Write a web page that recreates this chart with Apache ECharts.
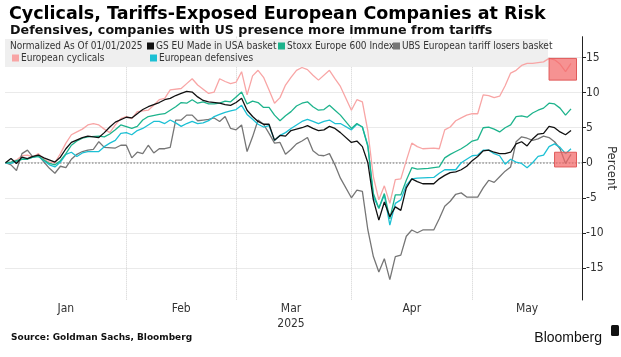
<!DOCTYPE html>
<html><head><meta charset="utf-8">
<script src="https://cdn.jsdelivr.net/npm/echarts@6/dist/echarts.min.js"></script>
<style>html,body{margin:0;padding:0;background:#fff}#c{width:621px;height:357px}</style>
</head><body><div id="c"></div>
<script>
// trading days (weekdays) of 2025 shown on the axis
const janDays = [1,2,3,6,7,8,9,10,13,14,15,16,17,20,21,22,23,24,27,28,29,30,31];
const febDays = [3,4,5,6,7,10,11,12,13,14,17,18,19,20,21,24,25,26,27,28];
const marDays = [3,4,5,6,7,10,11,12,13,14,17,18,19,20,21,24,25,26,27,28,31];
const aprDays = [1,2,3,4,7,8,9,10,11,14,15,16,17,18,21,22,23,24,25,28,29,30];
const mayDays = [1,2,5,6,7,8,9,12,13,14,15,16,19,20,21,22,23,26,27,28];

const monthLabelDates = ['2025-01-16','2025-02-14','2025-03-14','2025-04-15','2025-05-14'];
const monthLabels = ['Jan','Feb','Mar\n2025','Apr','May'];
const monthLineDates = ['2025-01-31','2025-02-28','2025-03-31','2025-04-30'];
const yTicks = [-15,-10,-5,0,5,10,15];

// [trading-day index, % change since 01/01/2025]
const gsMadeInUSA = [[0,0],[1,0.6],[2,-0.1],[3,0.8],[4,0.6],[5,0.9],[6,1.1],[7,0.7],[9,0.1],[10,0.8],[11,2.0],[12,2.9],[14,3.6],[15,3.8],[17,3.6],[18,4.3],[19,5.1],[20,5.8],[22,6.5],[23,6.4],[24,7.0],[25,7.6],[26,8.0],[28,8.6],[29,9.0],[30,9.2],[31,9.6],[32,9.9],[33,10.2],[34,10.1],[35,9.4],[36,8.9],[37,8.7],[39,8.5],[40,8.3],[41,8.2],[42,8.6],[43,9.2],[44,7.5],[45,6.6],[46,5.9],[47,5.5],[48,5.5],[49,3.2],[50,3.9],[51,3.8],[52,4.6],[54,5.0],[55,5.3],[56,4.9],[57,4.6],[58,4.7],[59,5.2],[60,4.9],[61,4.3],[63,2.9],[64,3.1],[65,2.3],[66,0.0],[67,-5.3],[68,-8.2],[69,-5.6],[70,-7.7],[71,-6.3],[72,-6.8],[73,-3.6],[74,-2.3],[75,-2.7],[76,-3.0],[78,-3.0],[79,-2.3],[80,-1.8],[81,-1.4],[82,-1.3],[83,-1.0],[84,-0.5],[85,0.3],[86,0.9],[87,1.7],[88,1.8],[89,1.5],[90,1.3],[91,1.3],[92,1.5],[93,2.7],[94,3.0],[95,2.4],[96,3.4],[97,4.1],[98,4.2],[99,5.2],[100,5.0],[101,4.4],[102,4.0],[103,4.6]];
const stoxx600 = [[0,0],[1,0.1],[3,0.5],[4,0.5],[5,0.8],[6,0.9],[7,0.4],[8,-0.1],[9,-0.3],[10,0.3],[11,1.3],[12,2.5],[13,3.1],[14,3.5],[15,3.7],[17,3.8],[18,3.7],[19,4.1],[20,4.7],[21,5.4],[23,4.9],[24,5.2],[25,6.1],[26,6.6],[28,6.9],[29,7.0],[30,7.5],[31,8.0],[32,8.6],[33,8.5],[34,9.0],[35,8.5],[36,8.7],[37,8.4],[38,8.4],[39,8.5],[40,8.8],[41,8.7],[42,9.4],[43,10.1],[44,8.4],[45,8.8],[46,8.6],[47,7.9],[48,7.9],[49,6.8],[50,6.0],[51,6.7],[52,7.3],[53,8.1],[54,8.5],[55,8.7],[56,8.0],[57,7.5],[58,7.6],[59,8.2],[60,7.5],[61,6.8],[63,4.9],[64,5.6],[65,5.1],[66,2.3],[67,-4.4],[68,-6.5],[69,-4.4],[70,-8.0],[71,-4.6],[72,-4.6],[73,-2.5],[74,-0.7],[75,-0.9],[77,-0.8],[79,-0.6],[80,0.7],[81,1.2],[82,1.6],[83,2.0],[84,2.5],[85,3.1],[86,3.3],[87,5.0],[88,5.1],[89,4.8],[90,4.4],[91,5.0],[92,5.4],[93,6.6],[94,6.7],[95,6.5],[96,7.1],[97,7.5],[98,7.8],[99,8.5],[100,8.4],[101,7.8],[102,6.8],[103,7.7]];
const ubsTariffLosers = [[0,0],[1,-0.3],[2,-1.1],[3,1.3],[4,1.8],[5,0.8],[6,1.1],[7,0.1],[8,-0.8],[9,-1.5],[10,-0.5],[11,-0.7],[12,0.5],[13,1.2],[14,1.6],[15,1.8],[16,1.9],[17,3.0],[18,2.2],[20,2.1],[21,2.5],[22,2.5],[23,0.7],[24,1.5],[25,1.3],[26,2.5],[27,1.4],[28,2.0],[29,2.0],[30,2.2],[31,6.1],[32,6.1],[33,6.8],[34,6.8],[35,6.0],[36,6.1],[37,6.2],[38,6.4],[39,5.9],[40,6.6],[41,4.9],[42,4.7],[43,5.4],[44,1.6],[45,3.7],[46,6.1],[47,5.5],[48,4.2],[49,2.8],[50,2.9],[51,1.2],[52,1.9],[53,2.7],[54,3.1],[55,3.6],[56,1.7],[57,1.1],[58,1.0],[59,1.3],[60,-0.3],[61,-2.2],[63,-5.0],[64,-3.9],[65,-4.1],[66,-9.6],[67,-13.4],[68,-15.6],[69,-13.7],[70,-16.7],[71,-13.4],[72,-13.2],[73,-10.5],[74,-9.6],[75,-10.0],[76,-9.6],[78,-9.6],[79,-8.0],[80,-6.2],[81,-5.5],[82,-4.5],[83,-4.3],[84,-4.9],[86,-4.9],[87,-3.6],[88,-2.5],[89,-2.8],[90,-2.0],[91,-1.2],[92,-0.6],[93,3.0],[94,3.7],[95,3.5],[96,3.2],[97,3.4],[98,3.8],[99,3.6],[100,3.0],[101,2.0],[102,-0.1],[103,1.2]];
const euroCyclicals = [[0,0],[1,0.1],[2,0.4],[3,1.0],[4,1.1],[5,0.8],[6,1.3],[7,0.5],[8,0.1],[9,0.0],[10,1.3],[11,2.8],[12,4.0],[13,4.4],[14,4.8],[15,5.4],[16,5.6],[17,5.4],[18,4.8],[19,4.3],[20,5.4],[21,6.3],[22,6.6],[23,6.3],[24,7.3],[26,7.5],[27,8.2],[28,9.0],[29,9.2],[30,10.4],[32,10.6],[33,11.3],[34,12.0],[35,11.1],[36,10.5],[37,9.9],[38,10.1],[39,12.0],[40,11.6],[41,11.3],[42,11.5],[43,13.0],[44,9.7],[45,12.4],[46,13.2],[47,12.2],[48,10.4],[49,8.5],[50,9.3],[51,11.1],[52,12.2],[53,13.2],[54,13.6],[55,13.3],[56,12.5],[57,11.8],[59,13.2],[60,12.0],[61,10.9],[63,7.5],[64,9.0],[65,8.7],[66,4.5],[67,-2.0],[68,-5.3],[69,-3.3],[70,-5.8],[71,-2.4],[72,-2.3],[73,0.3],[74,2.8],[75,2.3],[76,2.0],[78,2.1],[79,2.0],[80,4.7],[81,5.1],[82,6.0],[83,6.4],[84,6.8],[85,7.0],[86,7.0],[87,9.7],[88,9.6],[89,9.3],[90,9.5],[91,11.0],[92,12.8],[93,13.2],[94,13.9],[95,14.2],[96,14.2],[97,14.3],[98,14.4],[99,14.9],[100,14.7],[101,14.1],[102,13.0],[103,14.2]];
const euroDefensives = [[0,0],[1,-0.1],[3,0.5],[4,0.6],[5,0.8],[6,0.9],[7,0.3],[8,-0.3],[9,-0.6],[10,0.1],[11,1.2],[12,1.5],[13,0.9],[14,1.4],[15,1.6],[17,1.6],[18,2.3],[19,2.8],[20,3.2],[21,4.2],[22,4.3],[23,4.0],[24,4.6],[25,4.9],[26,5.4],[27,5.9],[28,5.9],[29,5.6],[30,6.1],[31,5.7],[32,5.2],[33,5.6],[34,5.9],[35,5.6],[36,5.7],[37,6.0],[38,6.6],[39,6.9],[40,7.2],[41,7.4],[42,7.6],[43,8.2],[44,6.9],[45,6.2],[46,5.5],[47,5.1],[48,5.3],[49,3.2],[50,3.9],[51,4.3],[52,4.9],[53,5.4],[54,5.9],[55,6.2],[56,5.9],[57,5.6],[58,5.9],[59,6.1],[60,5.6],[61,5.6],[63,4.7],[64,5.5],[65,5.1],[66,2.5],[67,-4.9],[68,-6.5],[69,-4.6],[70,-8.9],[71,-5.8],[72,-5.3],[73,-3.2],[74,-2.3],[75,-2.2],[78,-2.1],[79,-1.5],[80,-1.0],[82,-1.0],[83,0.0],[84,0.5],[85,1.0],[86,1.1],[87,1.8],[88,1.8],[89,1.3],[90,1.0],[91,-0.2],[92,0.5],[93,0.1],[94,-0.1],[95,-0.7],[96,0.0],[97,0.9],[98,1.1],[99,2.3],[100,2.7],[101,2.2],[102,1.3],[103,2.0]];

// highlighted boxes: [start date, end date, top value, bottom value]
const cyclicalsBox = ['2025-05-20','2025-05-27',14.9,11.8];
const losersBox = ['2025-05-21','2025-05-27',1.5,-0.6];

const names = ['GS EU Made in USA basket','Stoxx Europe 600 Index','UBS European tariff losers basket','European cyclicals','European defensives'];
const colors = ['#111111','#1db38c','#767676','#f8a5a5','#1cc0d4'];

const categories = [];
[[ '01', janDays],['02', febDays],['03', marDays],['04', aprDays],['05', mayDays]].forEach(([m, days]) => {
  days.forEach(d => categories.push('2025-' + m + '-' + String(d).padStart(2,'0')));
});

const COND = '"DejaVu Sans Condensed","DejaVu Sans",sans-serif';
const BOLD = '"DejaVu Sans","Liberation Sans",sans-serif';

function lineSeries(i, data, extra) {
  return Object.assign({
    name: names[i], type: 'line', data: data, showSymbol: false, symbol: 'none',
    lineStyle: {color: colors[i], width: 1.3}, itemStyle: {color: colors[i]},
    animation: false, silent: true
  }, extra || {});
}
function box(b) {
  return [{coord: [b[0], b[2]]}, {coord: [b[1], b[3]]}];
}
const boxStyle = {color: 'rgba(242,104,104,0.72)', borderColor: '#e05a5a', borderWidth: 1};

const legendPos = [[147,41],[278,41],[393,41],[12,53],[150,53]];

const chart = echarts.init(document.getElementById('c'), null, {renderer: 'canvas'});
chart.setOption({
  backgroundColor: '#fff',
  animation: false,
  title: [
    {text: 'Cyclicals, Tariffs-Exposed European Companies at Risk', left: 4, top: -2,
     textStyle: {fontFamily: BOLD, fontWeight: 'bold', fontSize: 17.5, color: '#000', lineHeight: 22}},
    {text: 'Defensives, companies with US presence more immune from tariffs', left: 5, top: 18,
     textStyle: {fontFamily: BOLD, fontWeight: 'bold', fontSize: 12.7, color: '#111', lineHeight: 16}},
    {text: 'Source: Goldman Sachs, Bloomberg', left: 6, top: 326,
     textStyle: {fontFamily: BOLD, fontWeight: 'bold', fontSize: 9, color: '#111', lineHeight: 14}},
    {text: 'Bloomberg', right: 14, top: 324,
     textStyle: {fontFamily: '"Liberation Sans",sans-serif', fontWeight: 'normal', fontSize: 14, color: '#111', lineHeight: 18}}
  ],
  legend: names.map((n, i) => ({
    data: [n], left: legendPos[i][0], top: legendPos[i][1], padding: 0,
    icon: 'rect', itemWidth: 7, itemHeight: 7, itemGap: 0, selectedMode: false,
    textStyle: {fontFamily: COND, fontSize: 10, color: '#333', padding: [0,0,0,-3]}
  })),
  graphic: [
    {type: 'rect', left: 5, top: 39, shape: {width: 543, height: 28}, style: {fill: '#efefef'}, z: 1, silent: true},
    {type: 'text', left: 10, top: 41, z: 5, style: {text: 'Normalized As Of 01/01/2025', font: '10px ' + COND, fill: '#333'}},
    {type: 'text', x: 611, y: 168, rotation: -Math.PI / 2, z: 5,
     style: {text: 'Percent', font: '13px ' + COND, fill: '#333', align: 'center', verticalAlign: 'middle'}},
    {type: 'rect', right: 2, top: 325, shape: {width: 8, height: 11, r: 1.5}, style: {fill: '#111'}, z: 5}
  ],
  grid: {left: 5.5, right: 39, top: 36.7, bottom: 57, containLabel: false, outerBoundsMode: 'none'},
  xAxis: {
    type: 'category', data: categories, boundaryGap: false,
    axisLine: {show: false}, axisTick: {show: false},
    axisLabel: {
      interval: (idx, val) => monthLabelDates.includes(val),
      formatter: (val) => monthLabels[monthLabelDates.indexOf(val)] || '',
      fontFamily: COND, fontSize: 12, color: '#333', margin: 1, lineHeight: 15
    },
    splitLine: {show: true, interval: (idx, val) => monthLineDates.includes(val),
      lineStyle: {type: 'dotted', color: '#d2d2d2', width: 1}}
  },
  yAxis: {
    type: 'value', position: 'right', min: -19.6, max: 18,
    axisLine: {show: true, lineStyle: {color: '#222', width: 1}},
    axisTick: {show: true, length: 4, customValues: yTicks, lineStyle: {color: '#222'}},
    axisLabel: {customValues: yTicks, margin: 4, fontFamily: COND, fontSize: 12, color: '#333'},
    splitLine: {show: true, lineStyle: {type: 'dotted', color: '#d5d5d5', width: 1}}
  },
  series: [
    lineSeries(3, euroCyclicals, {markArea: {silent: true, z: 6, label: {show: false}, itemStyle: boxStyle, data: [box(cyclicalsBox)]}}),
    lineSeries(2, ubsTariffLosers, {markArea: {silent: true, z: 6, label: {show: false}, itemStyle: boxStyle, data: [box(losersBox)]}}),
    lineSeries(4, euroDefensives),
    lineSeries(1, stoxx600),
    lineSeries(0, gsMadeInUSA, {markLine: {silent: true, z: 1, symbol: 'none', label: {show: false},
      lineStyle: {type: 'dotted', color: '#9a9a9a', width: 1.6}, data: [{yAxis: 0}]}})
  ]
});
</script>
</body></html>
